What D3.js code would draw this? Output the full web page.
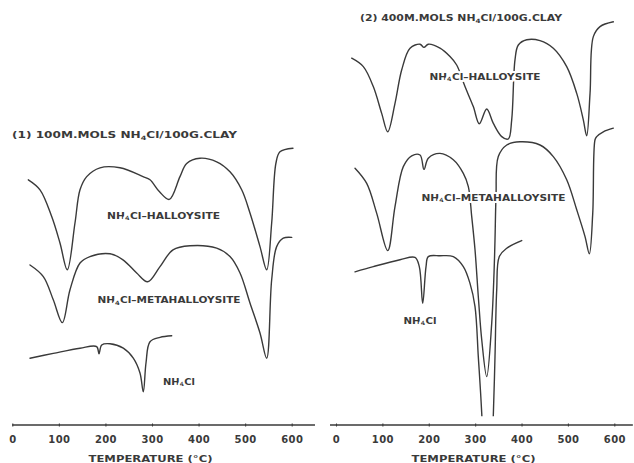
<!DOCTYPE html>
<html>
<head>
<meta charset="utf-8">
<script src="https://cdn.jsdelivr.net/npm/d3@7"></script>
<style>
  html, body { margin: 0; padding: 0; background: #fff; }
  svg { display: block; }
  text { font-family: "DejaVu Sans", "Liberation Sans", Arial, sans-serif; font-weight: bold; fill: #3a3a3a; }
</style>
</head>
<body>
<svg id="chart" width="634" height="463"></svg>
<script>
// ---------- data (temperature °C, deflection in arbitrary units) ----------
const tempTicks = [0, 100, 200, 300, 400, 500, 600];
const xTitle = "TEMPERATURE (°C)";
const panelTitles = ["(1) 100M.MOLS NH", "(2) 400M.MOLS NH"];

// Panel 1: 100 m.mols NH4Cl / 100 g clay
const p1Halloysite = [[34.4,61.3],[59.5,58.8],[84.6,52.1],[102.4,45.5],[118.1,38.8],[134.6,50.5],[145.4,58.8],[159.8,62.1],[188.3,64.3],[231.3,64.3],[280.7,62.1],[295.7,61.3],[316.2,58.3],[337.1,56.4],[360.1,62.1],[374.5,65.4],[403.1,66.7],[438.9,65.8],[467.5,63.3],[492.6,58.8],[510.4,53.0],[531.9,44.6],[546.3,38.8],[557.0,50.5],[566.2,65.5],[574.8,68.3],[602.7,69.2]];
const p1Metahalloysite = [[38.0,40.0],[66.6,37.1],[88.0,31.3],[107.4,25.6],[123.9,33.8],[145.4,40.5],[166.8,42.1],[209.8,42.8],[237.7,41.3],[267.1,38.0],[290.7,35.8],[317.2,39.6],[345.1,43.8],[381.6,44.8],[438.9,44.2],[467.5,42.1],[489.0,38.0],[510.4,30.5],[531.9,23.0],[546.3,16.7],[557.0,36.3],[567.7,44.6],[581.9,46.7],[600.0,46.9]];
const p1NH4Cl = [[38.0,16.7],[88.0,17.9],[145.4,19.2],[181.2,19.6],[186.2,17.8],[192.0,20.0],[209.8,20.3],[238.4,19.2],[259.8,16.7],[274.2,13.0],[281.3,8.3],[287.1,15.5],[295.7,20.8],[317.2,21.9],[342.3,22.3]];

// Panel 2: 400 m.mols NH4Cl / 100 g clay
const p2Halloysite = [[33.9,91.7],[58.9,89.6],[80.4,84.6],[98.5,77.9],[111.5,73.3],[127.2,80.4],[141.7,88.8],[159.6,94.2],[181.1,95.2],[189.7,94.4],[199.0,95.2],[224.2,94.2],[245.8,92.1],[260.2,90.0],[278.1,84.6],[296.0,79.6],[309.0,75.3],[324.9,79.0],[339.2,75.4],[357.3,72.1],[371.5,71.5],[378.8,76.3],[385.9,91.3],[393.1,95.0],[411.2,96.3],[439.8,96.1],[468.5,94.2],[497.4,89.6],[519.0,82.9],[533.2,76.3],[540.5,72.3],[547.7,82.9],[554.8,97.1],[569.2,99.6],[597.9,100.8]];
const p2Metahalloysite = [[41.0,64.2],[66.2,60.4],[87.8,52.9],[111.5,43.6],[127.2,54.6],[145.1,64.6],[163.2,67.3],[181.1,67.5],[189.7,63.9],[199.0,66.7],[224.2,67.9],[252.9,66.3],[274.5,62.9],[285.3,59.6],[292.6,52.1],[299.7,43.8],[307.3,31.3],[314.2,21.3],[324.9,12.1],[335.7,25.4],[340.7,38.0],[342.8,46.3],[345.0,57.1],[349.9,67.1],[368.1,70.0],[396.7,70.8],[439.8,70.0],[468.5,67.1],[497.4,61.3],[519.0,53.8],[536.9,47.1],[546.2,42.8],[553.5,52.9],[558.4,71.3],[562.1,72.1],[576.3,73.3],[597.9,74.2]];
const p2NH4Cl = [[41.0,38.3],[80.4,39.6],[138.0,41.3],[170.3,41.9],[179.6,39.6],[186.9,30.4],[194.1,39.6],[199.0,42.1],[224.2,42.3],[252.9,42.1],[274.5,39.6],[288.9,35.4],[299.7,29.6],[306.8,17.1],[314.2,2.9],[326.7,-33.8],[339.2,2.5],[342.8,17.1],[346.5,33.8],[352.1,42.1],[368.1,44.2],[400.4,46.1]];

// ---------- layout ----------
const svg = d3.select("#chart");
const axisY = 425;
const y = d3.scaleLinear().domain([0, 100]).range([axisY, 25]);

const panels = [
  { x: d3.scaleLinear().domain([0, 600]).range([12.3, 291.7]), axisExt: [0, 650],
    title: panelTitles[0], titlePos: [12, 134], titleLen: 225,
    series: [p1Halloysite, p1Metahalloysite, p1NH4Cl],
    labels: [
      { t: "Cl–HALLOYSITE", x: 107, y: 215, len: 113 },
      { t: "Cl–METAHALLOYSITE", x: 97.5, y: 299.5, len: 143 },
      { t: "Cl", x: 163, y: 381, len: 32 }
    ], clipBottom: 2.0, xLabelX: 150.5 },
  { x: d3.scaleLinear().domain([0, 600]).range([336, 614.3]), axisExt: [-13, 640],
    title: panelTitles[1], titlePos: [360, 17.5], titleLen: 202,
    series: [p2Halloysite, p2Metahalloysite, p2NH4Cl],
    labels: [
      { t: "Cl–HALLOYSITE", x: 429.5, y: 76, len: 111 },
      { t: "Cl–METAHALLOYSITE", x: 421.5, y: 197, len: 144 },
      { t: "Cl", x: 403.5, y: 320, len: 33 }
    ], clipBottom: 2.2, xLabelX: 473.5 }
];

const ink = "#3a3a3a";

panels.forEach((p, i) => {
  const g = svg.append("g");
  const clipId = "clip" + i;
  svg.append("clipPath").attr("id", clipId).append("rect")
    .attr("x", p.x(-50)).attr("width", p.x(700) - p.x(-50))
    .attr("y", 0).attr("height", y(p.clipBottom));

  // axis line
  g.append("line")
    .attr("x1", p.x(p.axisExt[0])).attr("x2", p.x(p.axisExt[1]))
    .attr("y1", axisY).attr("y2", axisY)
    .attr("stroke", ink).attr("stroke-width", 1.3);

  // tick marks and labels via axis
  const axis = d3.axisBottom(p.x).tickValues(tempTicks).tickSizeInner(3).tickSizeOuter(0).tickPadding(9);
  const ag = g.append("g").attr("transform", `translate(0,${axisY - 1.5})`).call(axis);
  ag.select(".domain").remove();
  ag.selectAll(".tick line").attr("stroke", ink).attr("stroke-width", 1.1);
  ag.selectAll(".tick text")
    .style("font-family", "\"DejaVu Sans\", sans-serif")
    .style("font-size", "10px").style("font-weight", "bold")
    .attr("fill", ink).attr("letter-spacing", "0.4px");

  // x title
  g.append("text").attr("x", p.xLabelX).attr("y", 461.5)
    .attr("text-anchor", "middle").style("font-size", "9px")
    .attr("textLength", 124).attr("lengthAdjust", "spacingAndGlyphs")
    .text(xTitle);

  // curves
  const line = d3.line().x(d => p.x(d[0])).y(d => y(d[1])).curve(d3.curveCatmullRom.alpha(0.5));
  g.append("g").attr("clip-path", `url(#${clipId})`)
    .selectAll("path").data(p.series).join("path")
    .attr("d", line).attr("fill", "none")
    .attr("stroke", ink).attr("stroke-width", 1.4)
    .attr("stroke-linejoin", "round").attr("stroke-linecap", "round");

  // panel title
  const tt = g.append("text").attr("x", p.titlePos[0]).attr("y", p.titlePos[1] + 3.5)
    .style("font-size", "9px")
    .attr("textLength", p.titleLen).attr("lengthAdjust", "spacingAndGlyphs");
  tt.append("tspan").text(p.title);
  tt.append("tspan").attr("dy", 2).style("font-size", "6px").text("4");
  tt.append("tspan").attr("dy", -2).text("Cl/100G.CLAY");

  // curve labels (with white halo to mask lines behind)
  p.labels.forEach(l => {
    const t = g.append("text").attr("x", l.x).attr("y", l.y + 3.5)
      .style("font-size", "9px")
      .attr("textLength", l.len).attr("lengthAdjust", "spacingAndGlyphs")
      .attr("stroke", "#fff").attr("stroke-width", 4).attr("paint-order", "stroke")
      .attr("stroke-linejoin", "round");
    t.append("tspan").text("NH");
    t.append("tspan").attr("dy", 1.5).style("font-size", "6px").text("4");
    t.append("tspan").attr("dy", -1.5).text(l.t);
  });
});
</script>
</body>
</html>
